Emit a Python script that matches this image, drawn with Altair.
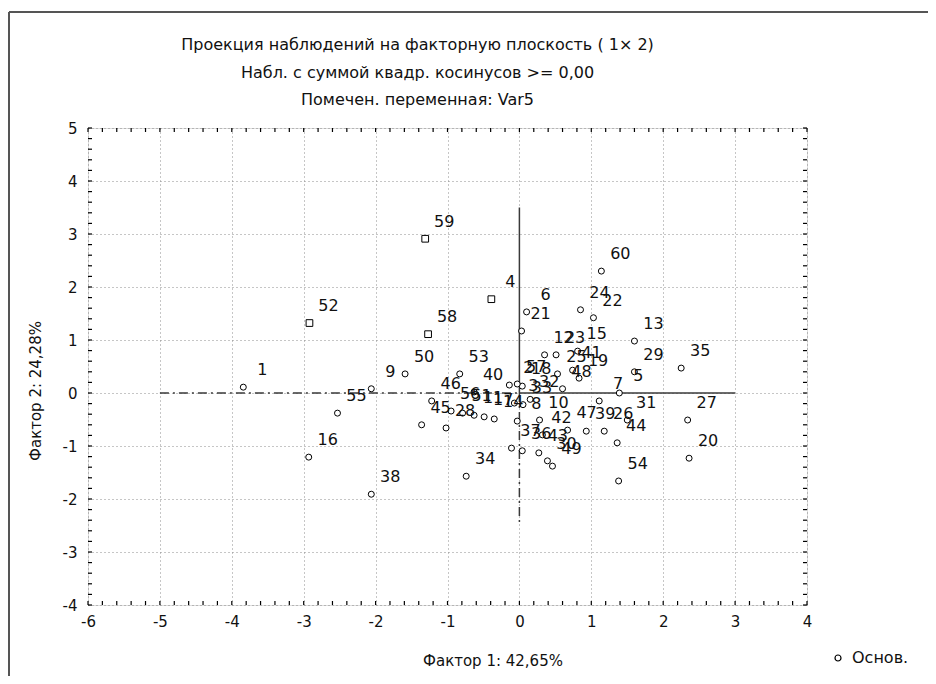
import altair as alt
import pandas as pd

# ---- data ----
labels = [str(i) for i in range(1, 61)]
f1 = [-3.84, -0.14, -0.07, -0.39, 1.39, 0.10, 1.11, -0.03, -2.06, 0.28,
      -0.63, 0.35, 1.60, -0.35, 0.81, -2.93, -0.49, 0.04, 0.83, 2.36,
      0.03, 1.03, 0.51, 0.85, 0.53, 1.18, 2.34, -1.02, 1.60, 0.39,
      1.50, 0.15, 0.05, -0.74, 2.25, 0.04, -0.11, -2.06, 0.93, -0.63,
      0.74, 0.32, 0.27, 1.36, -1.36, -1.22, 0.67, 0.60, 0.46, -1.59,
      -0.79, -2.92, -0.83, 1.38, -2.53, -0.95, -0.03, -1.27, -1.31, 1.14]
f2 = [0.11, 0.15, -0.19, 1.77, 0.00, 1.53, -0.15, -0.53, 0.08, -0.51,
      -0.42, 0.72, 0.98, -0.49, 0.79, -1.21, -0.45, 0.13, 0.28, -1.23,
      1.17, 1.42, 0.72, 1.57, 0.36, -0.72, -0.51, -0.66, 0.40, -1.28,
      -0.51, -0.12, -0.22, -1.57, 0.47, -1.09, -1.04, -1.91, -0.72, 0.02,
      0.43, -0.79, -1.13, -0.94, -0.60, -0.15, -0.70, 0.08, -1.38, 0.36,
      -0.38, 1.32, 0.36, -1.66, -0.38, -0.34, 0.17, 1.11, 2.91, 2.30]
square_obs = ["4", "52", "58", "59"]
kinds = ["Доп." if l in square_obs else "Основ." for l in labels]

x_major = [-6, -5, -4, -3, -2, -1, 0, 1, 2, 3, 4]
y_major = [-4, -3, -2, -1, 0, 1, 2, 3, 4, 5]
x_minor = [round(-6 + 0.2 * i, 1) for i in range(51)]
y_minor = [round(-4 + 0.2 * i, 1) for i in range(46)]

# cross lines through the origin
seg_x = [-5, 0, 0, 0]
seg_x2 = [0, 3, 0, 0]
seg_y = [0, 0, 0, 0]
seg_y2 = [0, 0, 3.5, -2.5]
seg_style = ["dash", "solid", "solid", "dash"]

titles = ["Проекция наблюдений на факторную плоскость ( 1×  2)",
          "Набл. с суммой квадр. косинусов >=  0,00",
          "Помечен. переменная: Var5"]
legend_label = "Основ."

FONT = "DejaVu Sans, Liberation Sans, sans-serif"
W, H = 719, 477

df = pd.DataFrame({"obs": labels, "f1": f1, "f2": f2, "kind": kinds})
seg = pd.DataFrame({"x": seg_x, "x2": seg_x2, "y": seg_y, "y2": seg_y2, "style": seg_style})
xmin = pd.DataFrame({"v": x_minor})
ymin = pd.DataFrame({"v": y_minor})
one = pd.DataFrame({"k": [0]})

xs = alt.Scale(domain=[-6, 4], nice=False, zero=False)
ys = alt.Scale(domain=[-4, 5], nice=False, zero=False)

xaxis = alt.Axis(values=x_major, title="Фактор 1: 42,65%", grid=True,
                 gridDash=[1, 3], gridColor="#8c8c8c", gridWidth=1,
                 domain=False, ticks=False, labelExpr="'' + datum.value",
                 labelFontSize=15, labelFont=FONT, labelColor="#111",
                 labelPadding=9, labelFlush=False,
                 titleFont=FONT, titleFontSize=15, titleFontWeight="normal",
                 titleColor="#111", titleX=W / 2 + 45, titleY=55,
                 titleBaseline="middle", titleAnchor="middle")
yaxis = alt.Axis(values=y_major, title="Фактор 2: 24,28%", grid=True,
                 gridDash=[1, 3], gridColor="#8c8c8c", gridWidth=1,
                 domain=False, ticks=False, labelExpr="'' + datum.value",
                 labelFontSize=15, labelFont=FONT, labelColor="#111",
                 labelPadding=11, labelFlush=False,
                 titleFont=FONT, titleFontSize=15, titleFontWeight="normal",
                 titleColor="#111", titleX=-53, titleY=H / 2 + 24,
                 titleBaseline="middle", titleAnchor="middle")

base = alt.Chart(df)

points = base.mark_point(filled=True, fill="white", stroke="black",
                         strokeWidth=1, opacity=1).encode(
    x=alt.X("f1:Q", scale=xs, axis=xaxis),
    y=alt.Y("f2:Q", scale=ys, axis=yaxis),
    shape=alt.Shape("kind:N",
                    scale=alt.Scale(domain=["Основ.", "Доп."], range=["circle", "square"]),
                    legend=None),
    size=alt.condition(alt.datum.kind == "Доп.", alt.value(45), alt.value(36)),
)

texts = base.mark_text(font=FONT, fontSize=16, color="#111", dx=19, dy=-17,
                       align="center", baseline="middle").encode(
    x=alt.X("f1:Q", scale=xs), y=alt.Y("f2:Q", scale=ys), text="obs:N")

seg_base = alt.Chart(seg)
seg_solid = seg_base.mark_rule(color="#3a3a3a", strokeWidth=1.5).encode(
    x=alt.X("x:Q", scale=xs), x2="x2:Q", y=alt.Y("y:Q", scale=ys), y2="y2:Q"
).transform_filter(alt.datum.style == "solid")
seg_dash = seg_base.mark_rule(color="#3a3a3a", strokeWidth=1.5,
                              strokeDash=[9, 4, 2, 4]).encode(
    x=alt.X("x:Q", scale=xs), x2="x2:Q", y=alt.Y("y:Q", scale=ys), y2="y2:Q"
).transform_filter(alt.datum.style == "dash")

xt = alt.Chart(xmin)
yt = alt.Chart(ymin)
tick_bottom = xt.mark_rule(color="black", strokeWidth=1.2).encode(
    x=alt.X("v:Q", scale=xs), y=alt.value(H), y2=alt.value(H - 4))
tick_top = xt.mark_rule(color="black", strokeWidth=1.2).encode(
    x=alt.X("v:Q", scale=xs), y=alt.value(0), y2=alt.value(4))
tick_left = yt.mark_rule(color="black", strokeWidth=1.2).encode(
    y=alt.Y("v:Q", scale=ys), x=alt.value(0), x2=alt.value(4))
tick_right = yt.mark_rule(color="black", strokeWidth=1.2).encode(
    y=alt.Y("v:Q", scale=ys), x=alt.value(W), x2=alt.value(W - 4))

# title lines
title_layers = []
for t, yy in zip(titles, [-83, -55, -28]):
    title_layers.append(
        alt.Chart(one).mark_text(text=t, font=FONT, fontSize=16, color="#111",
                                 align="center", baseline="middle").encode(
            x=alt.value(W / 2 - 30), y=alt.value(yy)))

# legend (single entry, bottom right)
leg_sym = alt.Chart(one).mark_point(shape="circle", filled=True, fill="white",
                                    stroke="black", strokeWidth=1.2, size=36,
                                    opacity=1).encode(
    x=alt.value(W + 31), y=alt.value(H + 53))
leg_txt = alt.Chart(one).mark_text(text=legend_label, font=FONT, fontSize=16,
                                   color="#111", align="left",
                                   baseline="middle").encode(
    x=alt.value(W + 45), y=alt.value(H + 53))

# outer window frame (left and top edges)
frame_top = alt.Chart(one).mark_rule(color="#555", strokeWidth=2).encode(
    x=alt.value(-79), x2=alt.value(W + 130), y=alt.value(-116))
frame_left = alt.Chart(one).mark_rule(color="#555", strokeWidth=2).encode(
    x=alt.value(-79), y=alt.value(-116), y2=alt.value(H + 80))

chart = alt.layer(
    seg_dash, seg_solid, tick_bottom, tick_top, tick_left, tick_right,
    points, texts, frame_top, frame_left, leg_sym, leg_txt, *title_layers
).properties(
    width=W, height=H,
    autosize=alt.AutoSizeParams(type="none"),
    padding={"left": 80, "top": 120, "right": 121, "bottom": 71},
).configure_view(stroke="black", strokeWidth=1.5
).configure(background="white")

chart.save("out.html", embed_options={"renderer": "svg", "actions": False})
